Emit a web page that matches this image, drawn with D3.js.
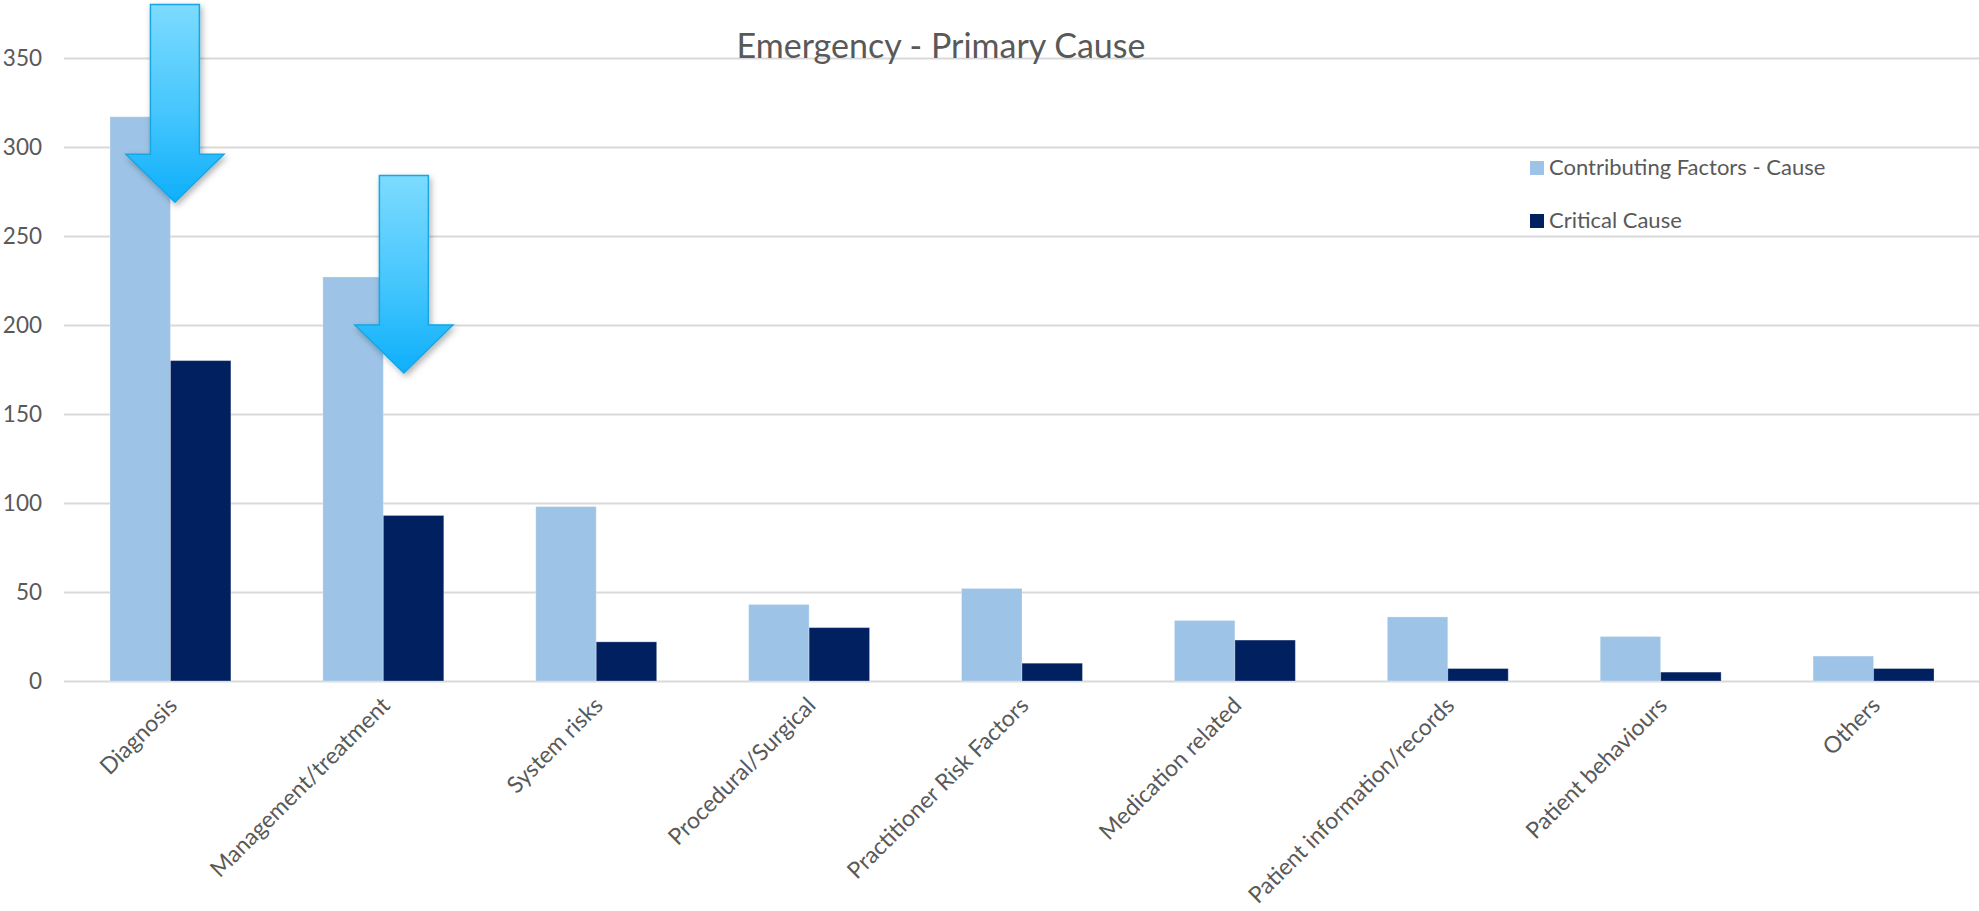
<!DOCTYPE html>
<html>
<head>
<meta charset="utf-8">
<script src="https://cdn.jsdelivr.net/npm/d3@7/dist/d3.min.js"></script>
<style>
  html, body { margin: 0; padding: 0; background: #ffffff; }
  svg { display: block; }
  text { font-family: Lato, "Open Sans", sans-serif; fill: #595959; }
</style>
</head>
<body>
<svg id="chart" width="1979" height="911"></svg>
<script>
// Primary causes of emergency incidents
const categories = [
  "Diagnosis", "Management/treatment", "System risks", "Procedural/Surgical",
  "Practitioner Risk Factors", "Medication related", "Patient information/records",
  "Patient behaviours", "Others"
];
const contributingFactors = [317, 227, 98, 43, 52, 34, 36, 25, 14];
const criticalCause = [180, 93, 22, 30, 10, 23, 7, 5, 7];
const seriesNames = ["Contributing Factors - Cause", "Critical Cause"];
const yTicks = [0, 50, 100, 150, 200, 250, 300, 350];
const chartTitle = "Emergency - Primary Cause";

// Callout arrows: category, top and tip values
const calloutCategories = ["Diagnosis", "Management/treatment"];
const calloutTops = [380, 284];
const calloutTips = [269, 173];

const colors = ["#9DC3E6", "#002060"];

const svg = d3.select("#chart");
const W = 1979, H = 911;
const margin = { left: 64, right: 0, top: 58, bottom: 230 };

svg.append("rect").attr("width", W).attr("height", H).attr("fill", "#ffffff");

const x = d3.scaleBand()
  .domain(categories)
  .range([margin.left, 1980])
  .paddingInner(0.432)
  .paddingOuter(0.216);

const x1 = d3.scaleBand()
  .domain(seriesNames)
  .range([0, x.bandwidth()]);

const y = d3.scaleLinear()
  .domain([0, 350])
  .range([681, 58]);

// Gridlines and value labels
const yAxis = d3.axisLeft(y)
  .tickValues(yTicks)
  .tickSize(-(1980 - margin.left))
  .tickPadding(22);

const gy = svg.append("g")
  .attr("transform", `translate(${margin.left},0)`)
  .call(yAxis);
gy.select(".domain").remove();
gy.selectAll(".tick line").attr("stroke", "#d9d9d9").attr("stroke-width", 2);
gy.selectAll(".tick text")
  .attr("fill", "#595959")
  .style("font-size", "22.5px")
  .style("font-family", "Lato, 'Open Sans', sans-serif");

// Title sits on top of the 350 gridline
svg.append("text")
  .attr("x", 941)
  .attr("y", 58)
  .attr("text-anchor", "middle")
  .style("font-size", "34px")
  .text(chartTitle);

// Bars
const rows = categories.map((c, i) => ({
  category: c,
  values: [contributingFactors[i], criticalCause[i]]
}));

const groups = svg.append("g").selectAll("g")
  .data(rows)
  .join("g")
  .attr("transform", d => `translate(${x(d.category)},0)`);

groups.selectAll("rect")
  .data(d => d.values.map((v, k) => ({ series: seriesNames[k], value: v, k })))
  .join("rect")
  .attr("x", d => x1(d.series))
  .attr("y", d => y(d.value))
  .attr("width", x1.bandwidth())
  .attr("height", d => y(0) - y(d.value))
  .attr("fill", d => colors[d.k])
  .attr("stroke", "#ffffff")
  .attr("stroke-opacity", 0.3)
  .attr("stroke-width", 1);

// Category labels
const xAxis = d3.axisBottom(x).tickSize(0).tickPadding(0);
const gx = svg.append("g")
  .attr("transform", `translate(0,${y(0)})`)
  .call(xAxis);
gx.select(".domain").remove();
gx.selectAll(".tick text")
  .attr("fill", "#595959")
  .style("font-size", "23px")
  .style("font-family", "Lato, 'Open Sans', sans-serif")
  .attr("text-anchor", "end")
  .attr("dy", null)
  .attr("y", 0)
  .attr("transform", "translate(8,26) rotate(-45)");

// Legend
const legend = svg.append("g").attr("transform", "translate(1530,161)");
seriesNames.forEach((name, i) => {
  const g = legend.append("g").attr("transform", `translate(0,${i * 53})`);
  g.append("rect").attr("width", 14).attr("height", 14).attr("fill", colors[i]);
  g.append("text")
    .attr("x", 19)
    .attr("y", 14)
    .style("font-size", "22px")
    .text(name);
});

// Callout arrows
const defs = svg.append("defs");
const grad = defs.append("linearGradient")
  .attr("id", "arrowFill")
  .attr("x1", 0).attr("y1", 0).attr("x2", 0).attr("y2", 1);
grad.append("stop").attr("offset", "0%").attr("stop-color", "#7ddbff");
grad.append("stop").attr("offset", "55%").attr("stop-color", "#45c6fd");
grad.append("stop").attr("offset", "100%").attr("stop-color", "#0eaffb");

const shadow = defs.append("filter")
  .attr("id", "arrowShadow")
  .attr("x", "-30%").attr("y", "-10%").attr("width", "160%").attr("height", "130%");
shadow.append("feDropShadow")
  .attr("dx", 2).attr("dy", 3).attr("stdDeviation", 3)
  .attr("flood-color", "#000000").attr("flood-opacity", 0.3);

const calloutSpots = [0.537, 0.67];
const shaftW = 49, headW = 98, headH = 48;

calloutCategories.forEach((cat, i) => {
  const cx = x(cat) + x.bandwidth() * calloutSpots[i];
  const top = y(calloutTops[i]);
  const tip = y(calloutTips[i]);
  const headTop = tip - headH;
  const path = d3.path();
  path.moveTo(cx - shaftW / 2, top);
  path.lineTo(cx + shaftW / 2, top);
  path.lineTo(cx + shaftW / 2, headTop);
  path.lineTo(cx + headW / 2, headTop);
  path.lineTo(cx, tip);
  path.lineTo(cx - headW / 2, headTop);
  path.lineTo(cx - shaftW / 2, headTop);
  path.closePath();
  svg.append("path")
    .attr("d", path.toString())
    .attr("fill", "url(#arrowFill)")
    .attr("stroke", "#14a6e3")
    .attr("stroke-width", 1.5)
    .attr("stroke-linejoin", "miter")
    .attr("filter", "url(#arrowShadow)");
});
</script>
</body>
</html>
